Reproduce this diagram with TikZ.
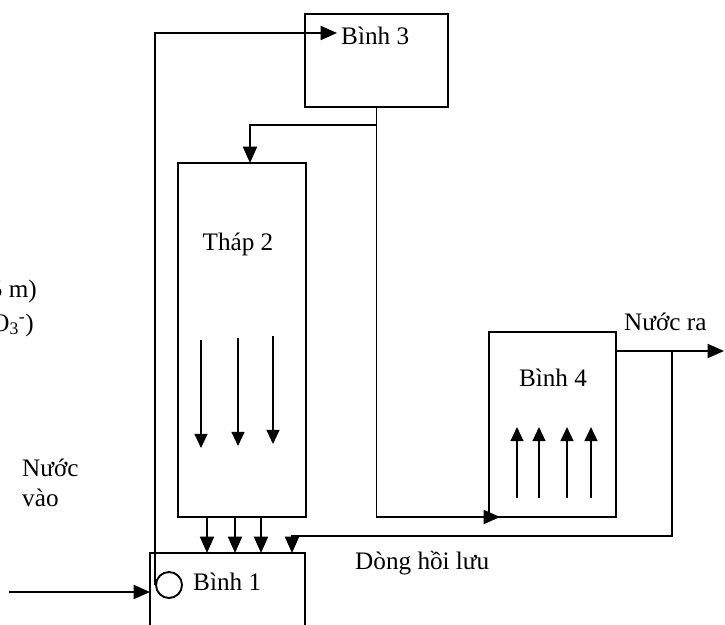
\documentclass[tikz,border=0pt]{standalone}
\usepackage{fontspec}
\setmainfont{Liberation Serif}
\usetikzlibrary{arrows.meta, calc}

\begin{document}
\begin{tikzpicture}[x=0.03cm, y=-0.03cm,
    every node/.style={font=\fontsize{21.5}{25}\selectfont},
    tank/.style={rectangle, draw, line width=1.6pt, inner sep=0pt},
    txt/.style={inner sep=0pt, align=left},
    flow/.style={-{Triangle[length=14pt, width=12pt]}, line width=1.6pt},
    rise/.style={-{Triangle[length=12pt, width=11pt]}, line width=1.4pt}]

  \useasboundingbox (0,0) rectangle (725,625);
  \clip (0,0) rectangle (725,625);

  % tanks
  \node[tank, minimum width=4.29cm, minimum height=2.79cm] (bin3) at (376.5,60.5) {};
  \node[tank, minimum width=3.84cm, minimum height=10.62cm] (thap) at (242,340) {};
  \node[tank, minimum width=3.81cm, minimum height=5.55cm] (bin4) at (552.5,424.5) {};
  \draw[line width=1.6pt] (150,630) -- (150,553) -- (305,553) -- (305,630);
  \node[circle, draw, line width=1.6pt, minimum size=0.78cm, inner sep=0pt] (pump) at (169,585) {};

  % labels
  \node[txt, anchor=west] (l3) at (341,36) {Bình 3};
  \node[txt] (l2) at (238,244) {Tháp 2};
  \node[txt] (l4) at (553,378) {Bình 4};
  \node[txt, anchor=west] (l1) at (193,582) {Bình 1};
  \node[txt, anchor=west] (lout) at (624,322) {Nước ra};
  \node[txt, anchor=west] (lback) at (355,563) {Dòng hồi lưu};
  \node[txt, anchor=west] (lin) at (22,483) {Nước\\vào};
  \node[txt, anchor=east] (lh) at (37,291) {5 m)};
  \node[txt, anchor=east] (lno) at (34,325) {(NO\textsubscript{3}\textsuperscript{-})};

  % connectors
  \coordinate (in3) at (337,33);
  \coordinate (br) at (376.5,125);
  \coordinate (in2) at (250,163);
  \coordinate (in4) at (500,517);
  \coordinate (o4) at (616,351);
  \coordinate (out) at (724,351);
  \coordinate (rj) at (672,351);
  \coordinate (rc) at (672,536);
  \coordinate (rin) at (292,553);
  \coordinate (src) at (9,592);
  \coordinate (in1) at (150,592);

  \draw[flow] (pump.west) |- (in3);
  \draw[flow] (bin3.south) |- (in4);
  \draw[flow] (br) -| (in2);
  \draw[flow] (o4) -- (out);
  \draw[flow] (rj) -- (rc) -| (rin);
  \draw[flow] (src) -- (in1);

  % flow inside and below the tower
  \foreach \x/\t in {201/448, 238/446, 273/444}
    \draw[rise] (\x,\t-108) -- (\x,\t);
  \foreach \x in {207, 235, 261}
    \draw[flow] (\x,517) -- (\x,553);

  % rising flow in tank 4
  \foreach \x in {517, 539, 567, 591}
    \draw[rise] (\x,498) -- (\x,427);
\end{tikzpicture}
\end{document}
